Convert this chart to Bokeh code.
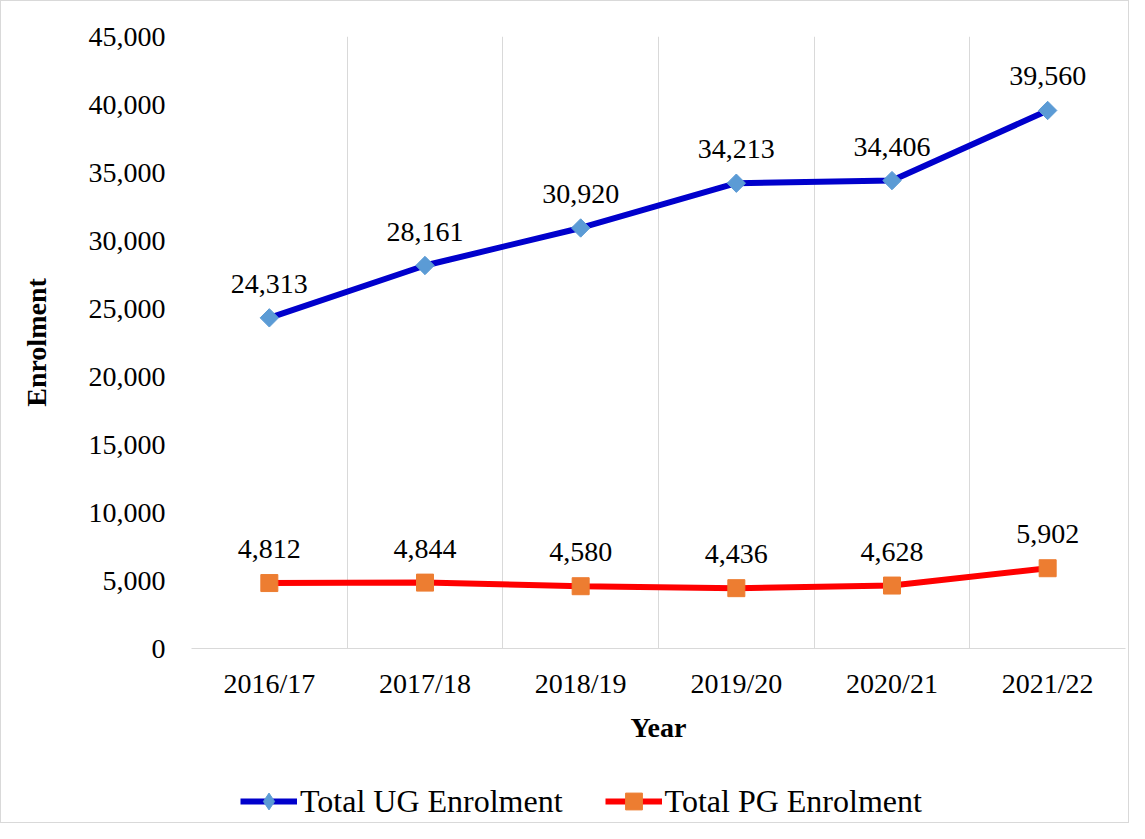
import math
from bokeh.plotting import figure
from bokeh.layouts import column
from bokeh.models import (Range1d, FixedTicker, NumeralTickFormatter, ColumnDataSource,
                          LabelSet, Legend, LegendItem)
from bokeh.embed import file_html
from bokeh.resources import INLINE

# ---- data ----
years = ["2016/17", "2017/18", "2018/19", "2019/20", "2020/21", "2021/22"]
ug_enrolment = [24313, 28161, 30920, 34213, 34406, 39560]
pg_enrolment = [4812, 4844, 4580, 4436, 4628, 5902]
y_ticks = [0, 5000, 10000, 15000, 20000, 25000, 30000, 35000, 40000, 45000]
series_names = ["Total UG Enrolment", "Total PG Enrolment"]

FONT = "Liberation Serif"
UG_LINE = "#0000CC"
UG_MARK = "#5B9BD5"
PG_LINE = "#FF0000"
PG_MARK = "#ED7D31"
GRID = "#D9D9D9"

xs = [i + 0.5 for i in range(len(years))]
src_ug = ColumnDataSource(dict(x=xs, y=ug_enrolment, label=[f"{v:,}" for v in ug_enrolment]))
src_pg = ColumnDataSource(dict(x=xs, y=pg_enrolment, label=[f"{v:,}" for v in pg_enrolment]))

W = 1127
p = figure(width=W, height=747, output_backend="svg", toolbar_location=None,
           x_range=Range1d(0, len(years)), y_range=Range1d(y_ticks[0], y_ticks[-1]),
           min_border_left=190, min_border_right=3, min_border_top=35, min_border_bottom=100)
p.outline_line_color = None
p.background_fill_color = "white"
p.border_fill_color = "white"

# y axis
ya = p.yaxis[0]
ya.ticker = FixedTicker(ticks=y_ticks)
ya.formatter = NumeralTickFormatter(format="0,0")
ya.axis_line_color = None
ya.major_tick_line_color = None
ya.minor_tick_line_color = None
ya.major_label_standoff = 20
ya.major_label_text_font = FONT
ya.major_label_text_font_size = "28px"
ya.major_label_text_color = "black"
ya.axis_label = "Enrolment"
ya.axis_label_text_font = FONT
ya.axis_label_text_font_size = "28px"
ya.axis_label_text_font_style = "bold"
ya.axis_label_text_color = "black"
ya.axis_label_standoff = 34

# x axis
xa = p.xaxis[0]
xa.ticker = FixedTicker(ticks=xs)
xa.major_label_overrides = dict(zip(xs, years))
xa.axis_line_color = GRID
xa.axis_line_width = 1
xa.major_tick_line_color = None
xa.minor_tick_line_color = None
xa.major_label_standoff = 13
xa.major_label_text_font = FONT
xa.major_label_text_font_size = "28px"
xa.major_label_text_color = "black"
xa.axis_label = "Year"
xa.axis_label_text_font = FONT
xa.axis_label_text_font_size = "28px"
xa.axis_label_text_font_style = "bold"
xa.axis_label_text_color = "black"
xa.axis_label_standoff = 10

# grids: vertical lines at category boundaries only
p.ygrid.visible = False
p.xgrid.ticker = FixedTicker(ticks=list(range(len(years) + 1)))
p.xgrid.grid_line_color = GRID
p.xgrid.grid_line_width = 1

# series
p.line("x", "y", source=src_ug, line_color=UG_LINE, line_width=6)
p.scatter("x", "y", source=src_ug, marker="square", size=13, angle=math.pi / 4,
          fill_color=UG_MARK, line_color=UG_MARK)
p.line("x", "y", source=src_pg, line_color=PG_LINE, line_width=6)
p.scatter("x", "y", source=src_pg, marker="square", size=17,
          fill_color=PG_MARK, line_color=PG_MARK)

for src in (src_ug, src_pg):
    p.add_layout(LabelSet(x="x", y="y", text="label", source=src, text_align="center",
                          text_baseline="middle", y_offset=34, text_font=FONT,
                          text_font_size="28px", text_color="black"))

# ---- legend strip (same series, drawn out of view; only the legend shows) ----
pl = figure(width=W, height=74, output_backend="svg", toolbar_location=None,
            x_range=Range1d(0, 1), y_range=Range1d(-2, -1),
            x_axis_type=None, y_axis_type=None,
            min_border_left=0, min_border_right=0, min_border_top=0, min_border_bottom=0)
pl.outline_line_color = None
pl.grid.visible = False
pl.background_fill_color = "white"
pl.border_fill_color = "white"
lg_ug_l = pl.line("x", "y", source=src_ug, line_color=UG_LINE, line_width=6)
lg_ug_m = pl.scatter("x", "y", source=src_ug, marker="diamond", size=18,
                     fill_color=UG_MARK, line_color=UG_MARK)
lg_pg_l = pl.line("x", "y", source=src_pg, line_color=PG_LINE, line_width=6)
lg_pg_m = pl.scatter("x", "y", source=src_pg, marker="square", size=17,
                     fill_color=PG_MARK, line_color=PG_MARK)

legend = Legend(items=[LegendItem(label=series_names[0], renderers=[lg_ug_l, lg_ug_m]),
                       LegendItem(label=series_names[1], renderers=[lg_pg_l, lg_pg_m])],
                orientation="horizontal", location=(49, 0),
                glyph_width=57, glyph_height=42, label_standoff=3, spacing=42,
                padding=0, margin=0, border_line_color=None, background_fill_alpha=0,
                label_text_font=FONT, label_text_font_size="32px", label_text_color="black")
pl.add_layout(legend)

layout = column(p, pl, spacing=0)
layout.styles = {"border": "1px solid #d9d9d9"}

open("out.html", "w").write(file_html(layout, INLINE))
